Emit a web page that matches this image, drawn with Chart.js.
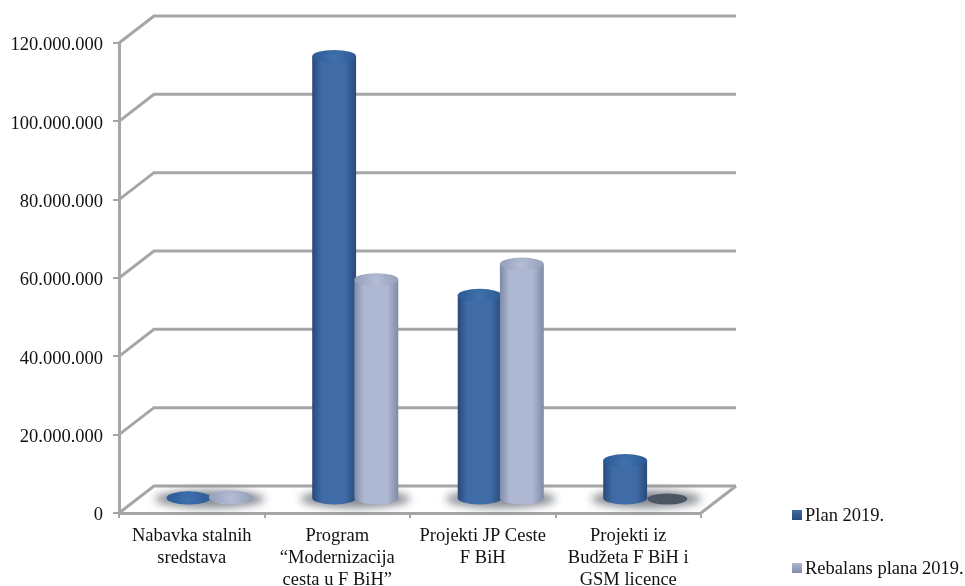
<!DOCTYPE html>
<html>
<head>
    <title>Plan 2019</title>
    <script src="https://cdn.jsdelivr.net/npm/chart.js"></script>
    <style>
        body { background: white; margin: 0; padding: 0; }
        canvas { display: block; }
    </style>
</head>
<body>
    <canvas id="chart" width="965" height="586"></canvas>
    <script>
        const categories = [
            ['Nabavka stalnih', 'sredstava'],
            ['Program', '“Modernizacija', 'cesta u F BiH”'],
            ['Projekti JP Ceste', 'F BiH'],
            ['Projekti iz', 'Budžeta F BiH i', 'GSM licence']
        ];
        const planValues = [300000, 113000000, 52000000, 9800000];
        const rebalansValues = [500000, 56000000, 60000000, 0];
        const seriesNames = ['Plan 2019.', 'Rebalans plana 2019.'];

        const FONT = '18.5px "Liberation Serif", serif';
        const GRID = '#a6a6a6';
        // depth of the fake 3D box
        const DEPTH_X = 35, DEPTH_Y = 27;
        // bars stand in the middle of the floor
        const BAR_X = 18, BAR_Y = 14, RY = 6.5;

        const palettes = [
            { edge: '#28497a', mid: '#3f6ca6', top: '#2b5a94', light: '#3f71ad' },
            { edge: '#7f8aa6', mid: '#aeb8d3', top: '#939eb8', light: '#b4bdd4' }
        ];

        function ellipse(ctx, x, y, rx, ry) {
            ctx.beginPath();
            ctx.ellipse(x, y, rx, ry, 0, 0, Math.PI * 2);
        }

        const box3d = {
            id: 'box3d',
            beforeDatasetsDraw(chart) {
                const ctx = chart.ctx, a = chart.chartArea, y = chart.scales.y;
                ctx.save();
                ctx.strokeStyle = GRID;
                ctx.lineWidth = 3;
                y.ticks.forEach(t => {
                    const py = y.getPixelForValue(t.value);
                    ctx.beginPath();
                    ctx.moveTo(a.left, py);
                    ctx.lineTo(a.left + DEPTH_X, py - DEPTH_Y);
                    ctx.lineTo(a.right + DEPTH_X, py - DEPTH_Y);
                    ctx.stroke();
                });
                // floor right side
                ctx.beginPath();
                ctx.moveTo(a.right, a.bottom);
                ctx.lineTo(a.right + DEPTH_X, a.bottom - DEPTH_Y);
                ctx.stroke();

                // soft shadows on the floor
                ctx.filter = 'blur(4px)';
                ctx.fillStyle = 'rgba(95,100,110,0.75)';
                chart.getDatasetMeta(0).data.forEach((el, i) => {
                    const other = chart.getDatasetMeta(1).data[i];
                    const cx = (el.x + other.x) / 2 + BAR_X;
                    ellipse(ctx, cx, el.base - BAR_Y + 1, el.width * 1.25, 9);
                    ctx.fill();
                });
                ctx.restore();
            },
            afterDatasetsDraw(chart) {
                const ctx = chart.ctx;
                ctx.save();
                chart.data.datasets.forEach((ds, d) => {
                    const pal = palettes[d];
                    chart.getDatasetMeta(d).data.forEach((el, i) => {
                        const x = el.x + BAR_X, rx = el.width / 2;
                        const top = el.y - BAR_Y, bottom = el.base - BAR_Y;
                        if (ds.data[i] === 0) {
                            ctx.fillStyle = '#4c5564';
                            ellipse(ctx, x, bottom, rx - 2, RY - 1);
                            ctx.fill();
                            return;
                        }
                        const g = ctx.createLinearGradient(x - rx, 0, x + rx, 0);
                        g.addColorStop(0, pal.edge);
                        g.addColorStop(0.22, pal.mid);
                        g.addColorStop(0.75, pal.mid);
                        g.addColorStop(1, pal.edge);
                        ctx.fillStyle = g;
                        ctx.beginPath();
                        ctx.moveTo(x - rx, top);
                        ctx.lineTo(x - rx, bottom);
                        ctx.ellipse(x, bottom, rx, RY, 0, Math.PI, 0, true);
                        ctx.lineTo(x + rx, top);
                        ctx.closePath();
                        ctx.fill();
                        const cap = ctx.createRadialGradient(x, top + 2, 1, x, top, rx);
                        cap.addColorStop(0, pal.light);
                        cap.addColorStop(1, pal.top);
                        ctx.fillStyle = cap;
                        ellipse(ctx, x, top, rx, RY);
                        ctx.fill();
                    });
                });

                // legend, right of the plot
                ctx.font = FONT;
                ctx.textBaseline = 'middle';
                ctx.textAlign = 'left';
                const legendY = [515, 568];
                chart.data.datasets.forEach((ds, d) => {
                    const pal = palettes[d];
                    const g = ctx.createLinearGradient(0, legendY[d] - 5, 0, legendY[d] + 5);
                    g.addColorStop(0, pal.mid);
                    g.addColorStop(1, pal.edge);
                    ctx.fillStyle = g;
                    ctx.fillRect(792, legendY[d] - 5, 10, 10);
                    ctx.fillStyle = '#111';
                    ctx.fillText(ds.label, 805, legendY[d] + 1);
                });
                ctx.restore();
            }
        };

        new Chart(document.getElementById('chart'), {
            type: 'bar',
            data: {
                labels: categories,
                datasets: [
                    { label: seriesNames[0], data: planValues, backgroundColor: 'transparent' },
                    { label: seriesNames[1], data: rebalansValues, backgroundColor: 'transparent' }
                ]
            },
            options: {
                responsive: false,
                animation: false,
                categoryPercentage: 0.58,
                barPercentage: 1.04,
                layout: { padding: { top: 43, right: 264, left: 0, bottom: 0 } },
                plugins: { legend: { display: false }, tooltip: { enabled: false } },
                scales: {
                    x: {
                        afterFit: s => { s.height = 73; },
                        border: { color: GRID, width: 3 },
                        grid: { drawOnChartArea: false, color: GRID, lineWidth: 2, tickLength: 5 },
                        ticks: { color: '#111', font: { family: '"Liberation Serif", serif', size: 18.5, lineHeight: 1.2 }, maxRotation: 0, autoSkip: false, padding: 7 }
                    },
                    y: {
                        min: 0,
                        max: 120000000,
                        afterFit: s => { s.width = 119; },
                        border: { color: GRID, width: 3 },
                        grid: { drawOnChartArea: false, color: GRID, lineWidth: 2, tickLength: 6 },
                        ticks: {
                            stepSize: 20000000,
                            color: '#111',
                            padding: 10,
                            // empty first line + 5px line height pushes the label down 2.5px
                            font: { family: '"Liberation Serif", serif', size: 18.5, lineHeight: '5px' },
                            callback: v => ['', v.toString().replace(/\B(?=(\d{3})+$)/g, '.')]
                        }
                    }
                }
            },
            plugins: [box3d]
        });
    </script>
</body>
</html>
